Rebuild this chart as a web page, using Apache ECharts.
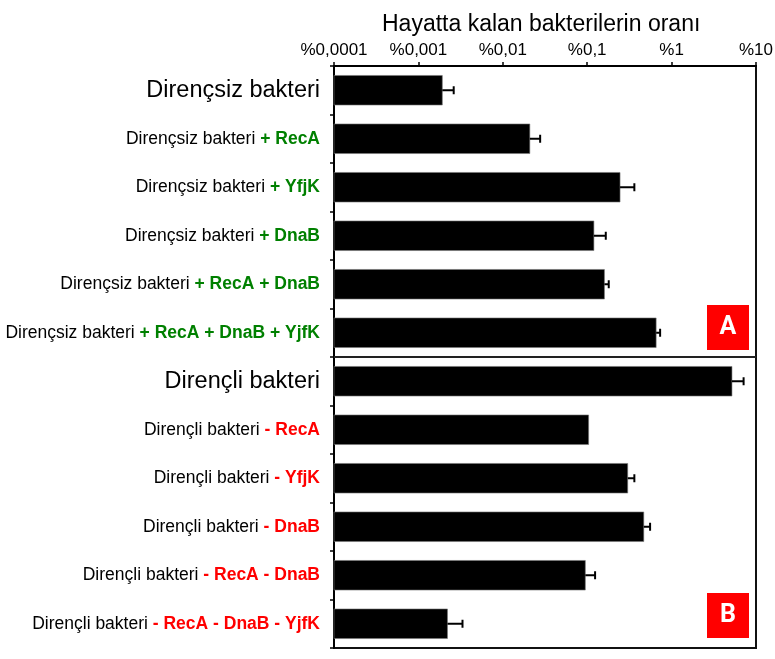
<!DOCTYPE html>
<html>
<head>
<meta charset="utf-8">
<script src="https://cdn.jsdelivr.net/npm/echarts@6/dist/echarts.min.js"></script>
<style>
html,body{margin:0;padding:0;background:#fff;}
#c{width:775px;height:659px;}
</style>
</head>
<body>
<div id="c"></div>
<script>
var categories = [
  'Dirençsiz bakteri',
  'Dirençsiz bakteri + RecA',
  'Dirençsiz bakteri + YfjK',
  'Dirençsiz bakteri + DnaB',
  'Dirençsiz bakteri + RecA + DnaB',
  'Dirençsiz bakteri + RecA + DnaB + YjfK',
  'Dirençli bakteri',
  'Dirençli bakteri - RecA',
  'Dirençli bakteri - YfjK',
  'Dirençli bakteri - DnaB',
  'Dirençli bakteri - RecA - DnaB',
  'Dirençli bakteri - RecA - DnaB - YjfK'
];
// survival ratio in percent
var survival = [0.00192, 0.0209, 0.245, 0.120, 0.160, 0.656, 5.19, 0.104, 0.302, 0.468, 0.0950, 0.00221];
// upper end of error bar (percent); null = no visible error bar
var errorHigh = [0.00262, 0.0277, 0.362, 0.166, 0.180, 0.731, 7.13, null, 0.362, 0.556, 0.124, 0.00333];
var tickLabels = ['%0,0001', '%0,001', '%0,01', '%0,1', '%1', '%10'];
var panelLabels = ['A', 'B'];
var titleText = 'Hayatta kalan bakterilerin oranı';
var axisMin = 0.0001;
var axisMax = 10;
var dividerBefore = 6; // first category of panel B

var SANS = "'Liberation Sans',Arial,sans-serif";

var rows = [];
for (var i = 0; i < categories.length; i++) {
  rows.push([i, survival[i], errorHigh[i] == null ? survival[i] : errorHigh[i]]);
}

var chart = echarts.init(document.getElementById('c'));
chart.setOption({
  animation: false,
  backgroundColor: '#fff',
  title: {
    text: titleText,
    left: 377,
    top: 8,
    textStyle: {fontFamily: SANS, fontSize: 23, fontWeight: 'normal', color: '#000'}
  },
  grid: {
    left: 334, right: 19, top: 66, bottom: 11,
    containLabel: false, outerBoundsMode: 'none',
    show: true, borderColor: '#111', borderWidth: 2, backgroundColor: '#fff'
  },
  xAxis: {
    type: 'log',
    logBase: 10,
    min: axisMin,
    max: axisMax,
    position: 'top',
    axisLine: {show: true, lineStyle: {color: '#000', width: 2}},
    axisTick: {show: true, inside: false, length: 4, lineStyle: {color: '#000', width: 1.5}},
    splitLine: {show: false},
    minorTick: {show: false},
    axisLabel: {
      fontFamily: SANS, fontSize: 17, color: '#000', margin: 7,
      formatter: function (v) { return tickLabels[Math.round(Math.log10(v)) + 4]; }
    }
  },
  yAxis: {
    type: 'category',
    inverse: true,
    data: categories,
    axisLine: {show: true, lineStyle: {color: '#000', width: 2}},
    axisTick: {show: true, inside: false, length: 4, interval: 0, lineStyle: {color: '#000', width: 1.5}},
    splitLine: {show: false},
    axisLabel: {
      interval: 0,
      margin: 14,
      formatter: function (v) {
        var k = v.indexOf('bakteri') + 7;
        var base = v.slice(0, k);
        var rest = v.slice(k).trim();
        if (!rest) return '{big|' + base + '}';
        var st = rest.charAt(0) === '+' ? 'g' : 'r';
        return '{n|' + base + ' }{' + st + '|' + rest + '}';
      },
      rich: {
        big: {fontFamily: SANS, fontSize: 23.5, color: '#000'},
        n: {fontFamily: SANS, fontSize: 17.5, color: '#000'},
        g: {fontFamily: SANS, fontSize: 17.5, color: '#008000', fontWeight: 'bold'},
        r: {fontFamily: SANS, fontSize: 17.5, color: '#ff0000', fontWeight: 'bold'}
      }
    }
  },
  series: [
    {
      type: 'custom',
      data: rows,
      encode: {x: [1, 2], y: 0},
      clip: false,
      renderItem: function (params, api) {
        var cat = api.value(0);
        var band = api.size([0, 1])[1];
        var bh = band * 0.61;
        var start = api.coord([axisMin, cat]);
        var end = api.coord([api.value(1), cat]);
        var hi = api.coord([api.value(2), cat]);
        var cs = params.coordSys;
        var children = [
          {type: 'rect', shape: {x: start[0], y: start[1] - bh / 2, width: end[0] - start[0], height: bh},
           style: {fill: '#000', stroke: '#777', lineWidth: 0.6}}
        ];
        if (hi[0] - end[0] > 0.5) {
          children.push({type: 'line', shape: {x1: end[0], y1: end[1], x2: hi[0], y2: hi[1]}, style: {stroke: '#000', lineWidth: 2}});
          children.push({type: 'line', shape: {x1: hi[0], y1: hi[1] - 4, x2: hi[0], y2: hi[1] + 4}, style: {stroke: '#000', lineWidth: 2}});
        }
        if (cat === dividerBefore) {
          var yb = start[1] - band / 2;
          children.push({type: 'line', shape: {x1: cs.x, y1: yb, x2: cs.x + cs.width, y2: yb}, style: {stroke: '#222', lineWidth: 2}});
        }
        return {type: 'group', children: children};
      }
    }
  ],
  graphic: [
    {
      type: 'group', left: 707, top: 305,
      children: [
        {type: 'rect', shape: {x: 0, y: 0, width: 42, height: 45}, style: {fill: '#ff0000'}},
        {type: 'text', x: 21, y: 23, style: {text: panelLabels[0], fill: '#fff', font: 'bold 25px Roboto, sans-serif', textAlign: 'center', textVerticalAlign: 'middle'}}
      ]
    },
    {
      type: 'group', left: 707, top: 593,
      children: [
        {type: 'rect', shape: {x: 0, y: 0, width: 42, height: 45}, style: {fill: '#ff0000'}},
        {type: 'text', x: 21, y: 23, style: {text: panelLabels[1], fill: '#fff', font: 'bold 25px Roboto, sans-serif', textAlign: 'center', textVerticalAlign: 'middle'}}
      ]
    }
  ]
});
</script>
</body>
</html>
